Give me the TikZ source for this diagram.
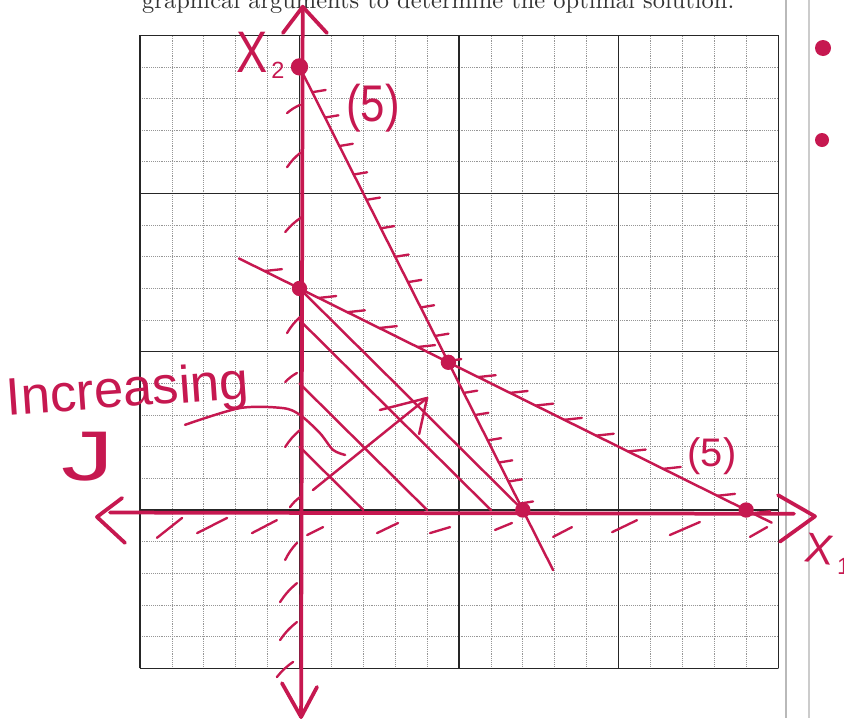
\documentclass[tikz,border=0pt]{standalone}
\usepackage{fontspec}
\usepackage{graphicx}
\newfontfamily\hand{Liberation Sans}
\definecolor{pen}{RGB}{198,24,80}
\definecolor{gridminor}{RGB}{150,150,150}
\tikzset{
  minorgrid/.style={draw=gridminor, line width=0.6pt, densely dotted},
  majorgrid/.style={draw=black!85, line width=0.9pt},
  penline/.style={draw=pen, line width=2.1pt, line cap=round, line join=round},
  axisline/.style={draw=pen, line width=3.2pt, line cap=round, line join=round},
  hatch/.style={draw=pen, line width=2pt, line cap=round},
  dotmark/.style={circle, fill=pen, inner sep=0pt, minimum size=0.46cm},
  handtext/.style={text=pen, inner sep=0pt},
}
\begin{document}
\begin{tikzpicture}[x=0.03cm,y=-0.03cm]
\useasboundingbox (0,0) rectangle (844,718);
\fill[white] (0,0) rectangle (844,718);
\begin{scope}
\clip (0,0) rectangle (844,718);

% header line (cut off at top)
\node[anchor=base west, inner sep=0pt, text=black!80] (header) at (142,8)
  {\resizebox{17.76cm}{!}{graphical arguments to determine the optimal solution.}};

% margin rules and dots
\draw[draw=gray!55, line width=1.3pt] (786,0) -- (786,718);
\draw[draw=gray!40, line width=0.9pt] (809,0) -- (809,718);
\node[dotmark, minimum size=0.48cm] (mdot1) at (823,48) {};
\node[dotmark, minimum size=0.42cm] (mdot2) at (822,140) {};

\begin{scope}[shift={(299.5,510)}, x=0.957cm, y=0.9495cm]
  % grid
  \foreach \k in {-5,...,15} {
    \draw[minorgrid] (\k,-5) -- (\k,15);
    \draw[minorgrid] (-5,\k) -- (15,\k);
  }
  \foreach \k in {-5,0,5,10,15} {
    \draw[majorgrid] (\k,-5) -- (\k,15);
    \draw[majorgrid] (-5,\k) -- (15,\k);
  }

  % key points
  \coordinate (p14) at (0,14);
  \coordinate (p7) at (0,7);
  \coordinate (q) at ({14/3},{14/3});
  \coordinate (r7) at (7,0);
  \coordinate (r14) at (14,0);
  \coordinate (steepEnd) at (7.95,-1.9);
  \coordinate (shallowStart) at (-1.9,7.95);
  \coordinate (shallowEnd) at (14.8,-0.4);

  % axes
  \coordinate (xAxisL) at (-5.94,-0.08);
  \coordinate (xAxisR) at (15.5,-0.12);
  \coordinate (xTipL) at (-6.35,-0.22);
  \coordinate (xTipR) at (16.16,-0.2);
  \coordinate (yAxisT) at (0.1,15.9);
  \coordinate (yAxisB) at (0.05,-6.54);
  \draw[axisline] (xAxisL) -- (xAxisR);
  \draw[axisline] (-5.56,0.38) -- (xTipL) -- (-5.47,-1.04);
  \draw[axisline] (15.0,0.47) -- (xTipR) -- (15.06,-1.0);
  \draw[axisline] (yAxisT) -- (yAxisB);
  \draw[axisline] (-0.52,15.07) -- (yAxisT) -- (0.86,15.07);
  \draw[axisline] (-0.55,-5.47) -- (yAxisB) -- (0.55,-5.59);

  % hatching on the axes
  \foreach \a/\b/\c/\d in {-4.47/-0.88/-3.68/-0.25, -3.21/-0.73/-2.27/-0.25,
      -1.49/-0.73/-0.71/-0.32, 0.24/-0.79/0.74/-0.54, 2.43/-0.73/3.09/-0.41,
      4.09/-0.73/4.72/-0.54, 6.13/-0.63/6.66/-0.41, 7.95/-0.85/8.54/-0.54,
      9.8/-0.7/10.58/-0.32, 11.61/-0.79/12.55/-0.38, 14.12/-0.85/14.66/-0.54}
    {\draw[hatch] (\a,\b) -- (\c,\d);}
  \foreach \a/\b/\c/\d in {-0.39/12.54/0.02/12.8, -0.39/10.83/0.02/11.28,
      -0.45/8.78/0.08/9.26, -0.39/5.59/0.02/6.1, -0.45/4.04/-0.08/4.33,
      -0.45/1.99/0.02/2.53, -0.3/0.09/0.02/0.41, -0.45/-1.58/-0.08/-1.04,
      -0.61/-2.91/-0.08/-2.31, -0.61/-4.11/-0.08/-3.54, -0.71/-5.28/-0.2/-4.8}
    {\draw[hatch] (\a,\b) to[bend left=8] (\c,\d);}

  % constraint lines
  \draw[penline] (p14) -- (steepEnd);
  \draw[penline] (shallowStart) -- (shallowEnd);
  \foreach \yy in {13.2,12.4,11.5,10.6,9.8,8.9,8.0,7.2,6.4,5.5,4.7,3.7,3.0,2.2,1.5,0.9,0.2}
    {\draw[hatch] ({(14-\yy)/2},\yy) -- ++(0.42,0.07);}
  \foreach \xx in {-1.1,0.6,1.5,2.5,3.7,5.6,6.6,7.4,8.3,9.3,10.3,11.4,13.1,14.2}
    {\draw[hatch] (\xx,{(14-\xx)/2}) -- ++(0.55,0.06);}

  % objective level lines
  \foreach \c in {2,4,6} {\draw[penline] (0,\c) -- (\c,0);}
  \draw[penline] (p7) -- (r7);

  % increasing-J arrow
  \coordinate (arrTail) at (0.42,0.63);
  \coordinate (arrTip) at (4.0,3.54);
  \draw[penline] (arrTail) -- (arrTip);
  \draw[penline] (2.52,3.16) -- (arrTip) -- (3.75,2.4);

  % pointer from the label
  \draw[penline] plot[smooth] coordinates {(-3.59,2.69) (-1.87,3.22) (-0.52,3.22)
      (0.02,3.0) (0.64,2.43) (1.05,1.9) (1.43,1.74)};

  % corner points
  \node[dotmark, minimum size=0.52cm] (d14) at (p14) {};
  \node[dotmark] (d7) at (p7) {};
  \node[dotmark] (dq) at (q) {};
  \node[dotmark] (dr7) at (r7) {};
  \node[dotmark] (dr14) at (r14) {};
\end{scope}

% labels
\node[handtext, font=\hand\fontsize{50}{50}\selectfont, xscale=0.8] (labX2) at (252,52) {X};
\node[handtext, font=\hand\fontsize{20}{20}\selectfont] (labX2sub) at (278,70) {2};
\node[handtext, font=\hand\fontsize{44}{44}\selectfont, xscale=0.85] (lab5a) at (373,108) {(5)};
\node[handtext, font=\hand\fontsize{34}{34}\selectfont] (lab5b) at (712,456) {(5)};
\node[handtext, font=\hand\fontsize{36}{36}\selectfont, rotate=-8] (labX1) at (819,549) {X};
\node[handtext, font=\hand\fontsize{20}{20}\selectfont, anchor=west] (labX1sub) at (837,566) {1};
\node[handtext, font=\hand\fontsize{45}{45}\selectfont, rotate=4] (labInc) at (128,393) {Increasing};
\node[handtext, font=\hand\fontsize{60}{60}\selectfont, xscale=1.5] (labJ) at (88,457) {J};
\end{scope}
\end{tikzpicture}
\end{document}
